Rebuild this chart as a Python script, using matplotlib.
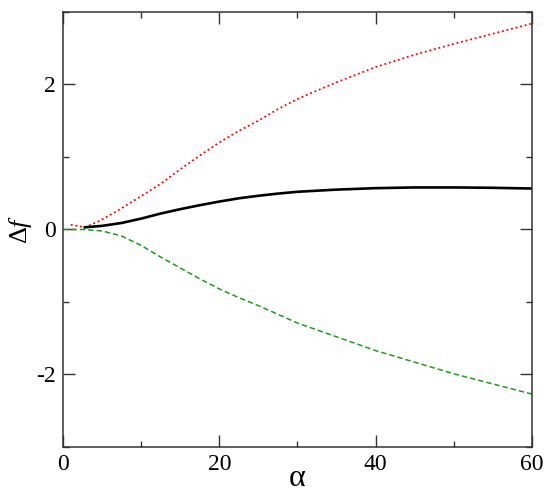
import matplotlib

matplotlib.use("Agg")
import matplotlib.pyplot as plt
from matplotlib.ticker import MultipleLocator

plt.rcParams["font.family"] = ["Liberation Serif", "DejaVu Serif"]
plt.rcParams["mathtext.fontset"] = "custom"
plt.rcParams["mathtext.rm"] = "Liberation Serif"
plt.rcParams["mathtext.it"] = "Liberation Serif:italic"

# --- values ------------------------------------------------------------------
red_x = [1, 2.8, 4.7, 7, 9.85, 12.5, 15, 17.5, 20, 22.5, 25, 27.5, 30, 35,
         40, 45, 50, 55, 60]
red_y = [0.065, 0.03, 0.12, 0.26, 0.45, 0.63, 0.83, 1.02, 1.2, 1.36, 1.5,
         1.66, 1.80, 2.03, 2.24, 2.41, 2.56, 2.70, 2.84]

black_x = [2.8, 5, 7.5, 10, 12.5, 15, 17.5, 20, 22.5, 25, 27.5, 30, 35, 40,
           45, 50, 55, 60]
black_y = [0.03, 0.05, 0.09, 0.15, 0.22, 0.28, 0.335, 0.385, 0.43, 0.465,
           0.495, 0.52, 0.55, 0.57, 0.58, 0.58, 0.575, 0.565]

green_x = [0, 2.5, 5, 7.5, 10, 12.5, 15, 17.5, 20, 22.5, 25, 27.5, 30, 35,
           40, 45, 50, 55, 60]
green_y = [0, 0, -0.02, -0.09, -0.22, -0.38, -0.53, -0.68, -0.82, -0.94,
           -1.05, -1.17, -1.29, -1.48, -1.67, -1.83, -1.99, -2.13, -2.27]

fig = plt.figure(figsize=(5.5, 4.97), dpi=100)
ax = fig.add_axes([0.1145, 0.1006, 0.8525, 0.8753])

ax.plot(red_x, red_y, color="red", ls=(0, (1, 1.6)), lw=1.3)
ax.plot(green_x, green_y, color="#1f9a1f", ls=(0, (3.5, 2)), lw=1.1)
ax.plot(black_x, black_y, color="black", lw=1.9)

ax.set_xlim(0, 60)
ax.set_ylim(-3, 3)
ax.xaxis.set_major_locator(MultipleLocator(20))
ax.xaxis.set_minor_locator(MultipleLocator(10))
ax.yaxis.set_major_locator(MultipleLocator(2))
ax.yaxis.set_minor_locator(MultipleLocator(1))
ax.tick_params(which="both", direction="in", top=True, right=True,
               color="#333333", width=1.0, labelsize=17, pad=5)
ax.tick_params(which="major", length=8.6)
ax.tick_params(which="minor", length=4.3)
ax.yaxis.set_major_formatter(plt.FuncFormatter(lambda v, p: f"{v:.0f}"))
for s in ax.spines.values():
    s.set_color("#333333")
    s.set_linewidth(1.1)

ax.set_xlabel("α", fontsize=23, labelpad=-8)
ax.set_ylabel(r"$\Delta f$", fontsize=19, labelpad=2)

fig.savefig("out.png", dpi=100)
